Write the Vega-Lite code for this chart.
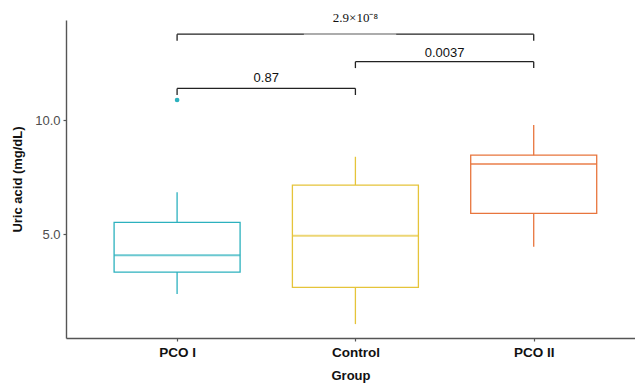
{
  "$schema": "https://vega.github.io/schema/vega-lite/v6.json",
  "width": 569,
  "height": 318,
  "autosize": {"type": "none"},
  "padding": {"left": 66, "top": 20, "right": 0, "bottom": 47},
  "background": "white",
  "config": {
    "view": {"stroke": null},
    "font": "Liberation Sans"
  },
  "datasets": {
    "boxes": [
      {"pos": 1, "group": "PCO I", "lower": 2.37, "q1": 3.33, "median": 4.07, "q3": 5.51, "upper": 6.83},
      {"pos": 2, "group": "Control", "lower": 1.05, "q1": 2.66, "median": 4.93, "q3": 7.15, "upper": 8.39},
      {"pos": 3, "group": "PCO II", "lower": 4.44, "q1": 5.91, "median": 8.07, "q3": 8.46, "upper": 9.78}
    ],
    "outliers": [
      {"pos": 1, "group": "PCO I", "value": 10.88}
    ],
    "brackets": [
      {"x": 1, "x2": 2, "y": 11.39, "y2": 11.39},
      {"x": 1, "x2": 1, "y": 11.10, "y2": 11.39},
      {"x": 2, "x2": 2, "y": 11.10, "y2": 11.39},
      {"x": 2, "x2": 3, "y": 12.56, "y2": 12.56},
      {"x": 2, "x2": 2, "y": 12.28, "y2": 12.56},
      {"x": 3, "x2": 3, "y": 12.28, "y2": 12.56},
      {"x": 1, "x2": 3, "y": 13.77, "y2": 13.77},
      {"x": 1, "x2": 1, "y": 13.48, "y2": 13.77},
      {"x": 3, "x2": 3, "y": 13.48, "y2": 13.77}
    ],
    "graybar": [
      {"x": 1.711, "x2": 2.229, "y": 13.77}
    ],
    "labels": [
      {"x": 1.5, "y": 11.84, "label": "0.87"},
      {"x": 2.5, "y": 12.94, "label": "0.0037"}
    ],
    "toplabel": [
      {"x": 2, "y": 14.47, "label": "2.9×10⁻⁸"}
    ]
  },
  "layer": [
    {
      "data": {"name": "boxes"},
      "mark": {"type": "rule", "strokeWidth": 1.3},
      "encoding": {
        "x": {"field": "pos", "type": "quantitative", "scale": {"domain": [0.405, 3.54], "nice": false, "zero": false},
          "axis": {"values": [1, 2, 3], "labelExpr": "datum.value == 1 ? 'PCO I' : datum.value == 2 ? 'Control' : 'PCO II'",
            "title": "Group", "titleFontSize": 13, "titleFontWeight": "bold", "titleColor": "#111", "titlePadding": 11,
            "labelFontSize": 13.5, "labelFontWeight": "bold", "labelColor": "#111", "labelPadding": 4,
            "grid": false, "domainColor": "#555", "domainWidth": 1.4, "tickColor": "#555", "tickSize": 3, "tickWidth": 1.2}},
        "y": {"field": "lower", "type": "quantitative", "scale": {"domain": [0.44, 14.39], "nice": false, "zero": false},
          "axis": {"values": [5, 10], "format": ".1f", "title": "Uric acid (mg/dL)", "titleFontSize": 13, "titleFontWeight": "bold",
            "titleColor": "#111", "titlePadding": 10, "labelFontSize": 13, "labelColor": "#4d4d4d", "labelPadding": 3,
            "grid": false, "domainColor": "#555", "domainWidth": 1.4, "tickColor": "#555", "tickSize": 3, "tickWidth": 1.2}},
        "y2": {"field": "upper"},
        "color": {"field": "group", "type": "nominal", "scale": {"domain": ["PCO I", "Control", "PCO II"], "range": ["#2CB1BE", "#E5C43A", "#E8753D"]}, "legend": null}
      }
    },
    {
      "data": {"name": "boxes"},
      "mark": {"type": "bar", "fill": "white", "strokeWidth": 1.3, "size": 126},
      "encoding": {
        "x": {"field": "pos", "type": "quantitative"},
        "y": {"field": "q1", "type": "quantitative"},
        "y2": {"field": "q3"},
        "stroke": {"field": "group", "type": "nominal", "scale": {"domain": ["PCO I", "Control", "PCO II"], "range": ["#2CB1BE", "#E5C43A", "#E8753D"]}, "legend": null}
      }
    },
    {
      "data": {"name": "boxes"},
      "mark": {"type": "tick", "orient": "horizontal", "size": 126, "thickness": 2},
      "encoding": {
        "x": {"field": "pos", "type": "quantitative"},
        "y": {"field": "median", "type": "quantitative"},
        "color": {"field": "group", "type": "nominal", "legend": null}
      }
    },
    {
      "data": {"name": "outliers"},
      "mark": {"type": "circle", "size": 22, "opacity": 1},
      "encoding": {
        "x": {"field": "pos", "type": "quantitative"},
        "y": {"field": "value", "type": "quantitative"},
        "color": {"field": "group", "type": "nominal", "legend": null}
      }
    },
    {
      "data": {"name": "brackets"},
      "mark": {"type": "rule", "color": "#222", "strokeWidth": 1.3},
      "encoding": {
        "x": {"field": "x", "type": "quantitative"},
        "x2": {"field": "x2"},
        "y": {"field": "y", "type": "quantitative"},
        "y2": {"field": "y2"}
      }
    },
    {
      "data": {"name": "graybar"},
      "mark": {"type": "rule", "color": "#c8c8c8", "strokeWidth": 1.3},
      "encoding": {
        "x": {"field": "x", "type": "quantitative"},
        "x2": {"field": "x2"},
        "y": {"field": "y", "type": "quantitative"}
      }
    },
    {
      "data": {"name": "labels"},
      "mark": {"type": "text", "fontSize": 13, "color": "#111", "baseline": "middle"},
      "encoding": {
        "x": {"field": "x", "type": "quantitative"},
        "y": {"field": "y", "type": "quantitative"},
        "text": {"field": "label"}
      }
    },
    {
      "data": {"name": "toplabel"},
      "mark": {"type": "text", "fontSize": 13, "font": "Liberation Serif", "color": "#111", "baseline": "middle"},
      "encoding": {
        "x": {"field": "x", "type": "quantitative"},
        "y": {"field": "y", "type": "quantitative"},
        "text": {"field": "label"}
      }
    }
  ]
}
